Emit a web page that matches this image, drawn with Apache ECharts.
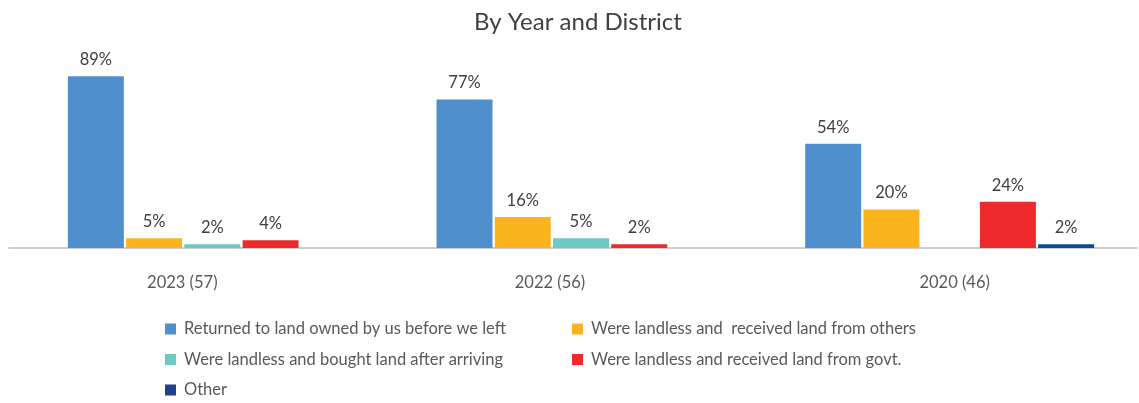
<!DOCTYPE html>
<html>
<head>
<meta charset="utf-8">
<script src="https://cdn.jsdelivr.net/npm/echarts@6/dist/echarts.min.js"></script>
<style>
  html, body { margin: 0; padding: 0; background: #fff; }
  #chart { width: 1139px; height: 403px; }
</style>
</head>
<body>
<div id="chart"></div>
<script>
// Survey groups (year and respondent count)
const categories = ['2023 (57)', '2022 (56)', '2020 (46)'];

// Share of respondents per answer, in percent (null = no bar)
const returnedOwnLand    = [89, 77, 54];
const receivedFromOthers = [5, 16, 20];
const boughtAfterArrival = [2, 5, null];
const receivedFromGovt   = [4, 2, 24];
const otherAnswer        = [null, null, 2];

const seriesNames = [
  'Returned to land owned by us before we left',
  'Were landless and  received land from others',
  'Were landless and bought land after arriving',
  'Were landless and received land from govt.',
  'Other'
];
const seriesColors = ['#4F8FCD', '#FBB31E', '#6CC9C3', '#EE2A2C', '#0E4A97'];
const seriesValues = [returnedOwnLand, receivedFromOthers, boughtAfterArrival, receivedFromGovt, otherAnswer];

const FONT = 'Lato, "Open Sans", sans-serif';
const LABEL_COLOR = '#595959';

const chart = echarts.init(document.getElementById('chart'), null, { renderer: 'canvas' });

const series = seriesNames.map((name, i) => ({
  name,
  type: 'bar',
  data: seriesValues[i],
  barWidth: 56,
  barGap: '4%',
  itemStyle: { color: seriesColors[i] },
  label: {
    show: true,
    position: 'top',
    distance: 8,
    formatter: p => (p.value == null ? '' : p.value + '%'),
    color: '#404040',
    fontSize: 16.5,
    fontFamily: FONT
  }
}));

const legendCommon = {
  orient: 'vertical',
  top: 314,
  height: 110,
  itemWidth: 11,
  itemHeight: 11,
  itemGap: 10.5,
  icon: 'rect',
  textStyle: {
    color: LABEL_COLOR,
    fontSize: 16.5,
    fontFamily: FONT,
    lineHeight: 20,
    padding: [0, 0, 0, 3]
  },
  selectedMode: false
};

// Category captions sit slightly off the bar-group centres
const captionStyle = (padding) => ({
  color: LABEL_COLOR, fontSize: 16.5, fontFamily: FONT, padding
});

chart.setOption({
  animation: false,
  textStyle: { fontFamily: FONT },
  title: {
    text: 'By Year and District',
    left: 469,
    top: 5,
    textStyle: { color: '#404040', fontSize: 24, fontWeight: 'normal', fontFamily: FONT }
  },
  legend: [
    Object.assign({}, legendCommon, {
      left: 160,
      data: [
        seriesNames[0],
        seriesNames[2],
        { name: seriesNames[4], itemStyle: { color: '#233F8E' } }
      ]
    }),
    Object.assign({}, legendCommon, { left: 567, data: [seriesNames[1], seriesNames[3]] })
  ],
  grid: [
    { left: 28, right: 5, top: 55, bottom: 155, containLabel: false },
    { left: 9, right: 2, top: 55, bottom: 155, containLabel: false }
  ],
  xAxis: [
    {
      type: 'category',
      gridIndex: 0,
      data: categories,
      axisLine: { show: false },
      axisTick: { show: false },
      axisLabel: {
        margin: 26,
        formatter: (v, i) => `{c${i}|${v}}`,
        rich: {
          c0: captionStyle([0, 60, 0, 0]),
          c1: captionStyle([0, 62, 0, 0]),
          c2: captionStyle([0, 0, 0, 10])
        }
      }
    },
    {
      // baseline spanning the full plot width
      type: 'category',
      gridIndex: 1,
      data: categories,
      axisLine: { lineStyle: { color: '#BFBFBF', width: 1.5 } },
      axisTick: { show: false },
      axisLabel: { show: false }
    }
  ],
  yAxis: [
    { type: 'value', gridIndex: 0, min: 0, max: 100, show: false },
    { type: 'value', gridIndex: 1, min: 0, max: 100, show: false }
  ],
  series
});
</script>
</body>
</html>
